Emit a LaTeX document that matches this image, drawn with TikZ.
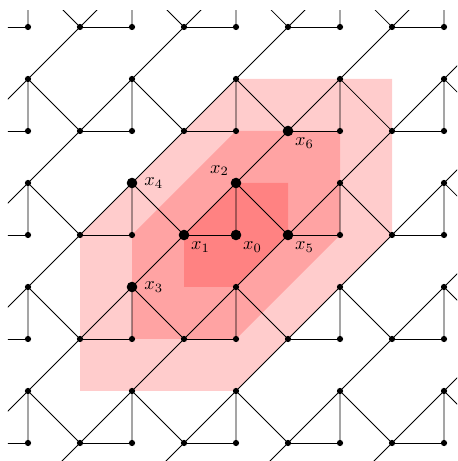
\documentclass[tikz,border=0pt]{standalone}
\usepackage{tikz}
\usetikzlibrary{positioning}

\begin{document}
\begin{tikzpicture}[big/.style={circle,fill,inner sep=0pt,minimum size=5.8pt}, lab/.style={inner sep=1.5pt}, region/.style={fill=red,fill opacity=0.2}]
\useasboundingbox (-0.5385,-0.3462) rectangle (8.25,8.519);
\foreach \i in {-1,...,9} \foreach \j in {-2,...,10} \coordinate (v\i-\j) at (\i,\j);
\fill[region] (v1-1)--(v4-1)--(v7-4)--(v7-7)--(v4-7)--(v1-4)--cycle;
\fill[region] (v2-2)--(v4-2)--(v6-4)--(v6-6)--(v4-6)--(v2-4)--cycle;
\fill[region] (v3-3)--(v4-3)--(v5-4)--(v5-5)--(v4-5)--(v3-4)--cycle;
\begin{scope}
\clip (-0.385,-0.3462) rectangle (8.25,8.308);
\foreach \i in {0,2,...,8} \foreach \j in {-1,1,...,9} {
  \pgfmathtruncatemacro\il{\i-1}
  \pgfmathtruncatemacro\ir{\i+1}
  \pgfmathtruncatemacro\jd{\j-1}
  \pgfmathtruncatemacro\ju{\j+1}
  \draw (v\il-\jd)--(v\i-\j)--(v\ir-\ju) (v\i-\jd)--(v\i-\j)--(v\ir-\jd);
}
\foreach \i in {-1,1,...,7} \foreach \j in {0,2,...,8} {
  \pgfmathtruncatemacro\ir{\i+1}
  \draw (v\i-\j)--(v\ir-\j);
}
\end{scope}
\foreach \i in {0,...,8} \foreach \j in {0,2,...,8} \fill (v\i-\j) circle (1.7pt);
\foreach \i in {0,2,...,8} \foreach \j in {1,3,...,7} \fill (v\i-\j) circle (1.7pt);
\node[big] (x0) at (v4-4) {};
\node[big] (x1) at (v3-4) {};
\node[big] (x2) at (v4-5) {};
\node[big] (x3) at (v2-3) {};
\node[big] (x4) at (v2-5) {};
\node[big] (x5) at (v5-4) {};
\node[big] (x6) at (v5-6) {};
\node[lab,below right=0pt of x0] (l0) {$x_0$};
\node[lab,below right=0pt of x1] (l1) {$x_1$};
\node[lab,above left=0pt of x2] (l2) {$x_2$};
\node[lab,right=2pt of x3] (l3) {$x_3$};
\node[lab,right=2pt of x4] (l4) {$x_4$};
\node[lab,below right=0pt of x5] (l5) {$x_5$};
\node[lab,below right=0pt of x6] (l6) {$x_6$};
\end{tikzpicture}
\end{document}
